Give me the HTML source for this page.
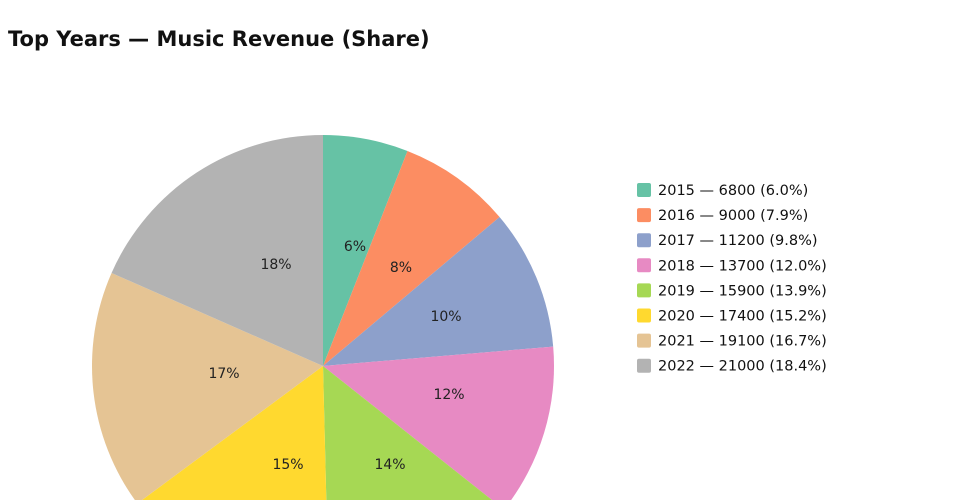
<!DOCTYPE html>
<html><head><meta charset="utf-8"><style>
html,body{margin:0;background:#fff;width:960px;height:500px;overflow:hidden;font-family:"DejaVu Sans","Liberation Sans",sans-serif;}
svg{display:block;overflow:hidden}
</style></head><body>
<svg id="s" width="960" height="500" xmlns="http://www.w3.org/2000/svg">
<text x="8" y="46" font-size="21" font-weight="bold" fill="#111">Top Years — Music Revenue (Share)</text>
<g id="pie"></g>
<g id="leg"></g>
</svg>
<script>
var d=[[2015,6800,"#66c2a5"],[2016,9000,"#fc8d62"],[2017,11200,"#8da0cb"],[2018,13700,"#e78ac3"],[2019,15900,"#a6d854"],[2020,17400,"#ffd92f"],[2021,19100,"#e5c494"],[2022,21000,"#b3b3b3"]];
var lp=[[355,246],[401,267],[446,316],[449,394],[390,464],[288,464],[224,373],[276,264]];
var tot=0;d.forEach(function(x){tot+=x[1]});
var cx=323,cy=366,r=231,a=0,ns="http://www.w3.org/2000/svg";
var pie=document.getElementById("pie"),leg=document.getElementById("leg");
function pt(t,rr){return [cx+rr*Math.sin(t),cy-rr*Math.cos(t)];}
d.forEach(function(x,i){
 var f=x[1]/tot,b=a+f*2*Math.PI,p0=pt(a,r),p1=pt(b,r);
 var p=document.createElementNS(ns,"path");
 p.setAttribute("d","M"+cx+","+cy+"L"+p0[0]+","+p0[1]+"A"+r+","+r+" 0 "+(f>0.5?1:0)+" 1 "+p1[0]+","+p1[1]+"Z");
 p.setAttribute("fill",x[2]);pie.appendChild(p);
 var t=document.createElementNS(ns,"text");
 t.setAttribute("x",lp[i][0]);t.setAttribute("y",lp[i][1]+5);t.setAttribute("text-anchor","middle");
 t.setAttribute("font-size","14");t.setAttribute("fill","#222");
 t.textContent=Math.round(f*100)+"%";pie.appendChild(t);
 a=b;
 var y=190+i*25.1;
 var rc=document.createElementNS(ns,"rect");
 rc.setAttribute("x",637);rc.setAttribute("y",y-7);rc.setAttribute("width",14);rc.setAttribute("height",14);rc.setAttribute("rx",2);rc.setAttribute("fill",x[2]);leg.appendChild(rc);
 var lt=document.createElementNS(ns,"text");
 lt.setAttribute("x",658);lt.setAttribute("y",y+5);lt.setAttribute("font-size","14.5");lt.setAttribute("fill","#111");
 lt.textContent=x[0]+" — "+x[1]+" ("+(f*100).toFixed(1)+"%)";leg.appendChild(lt);
});
</script>
</body></html>
